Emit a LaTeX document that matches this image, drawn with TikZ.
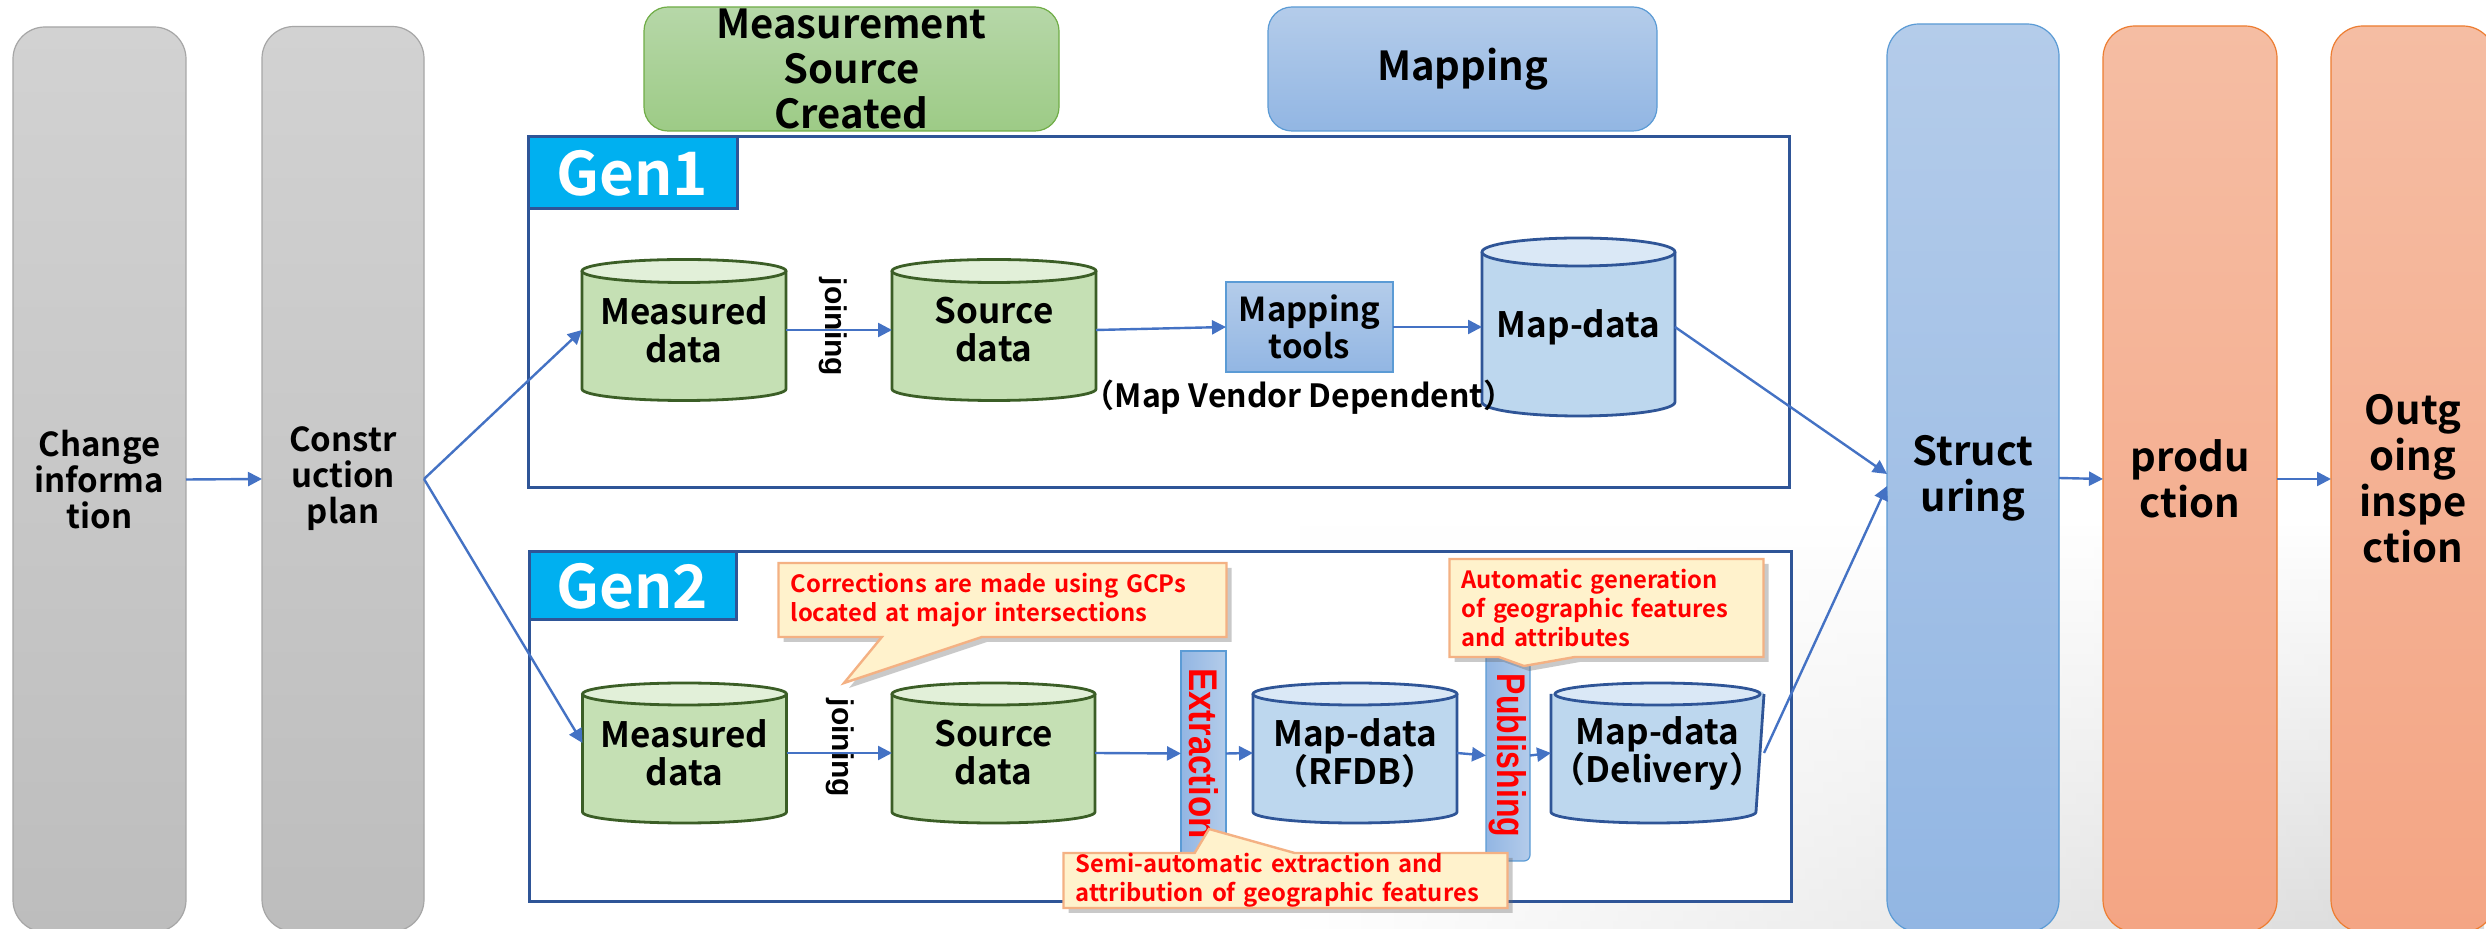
\documentclass[tikz,border=0pt]{standalone}
\usepackage{fontspec}
\usepackage{graphicx}
\setmainfont{Noto Sans CJK JP}[BoldFont={Noto Sans CJK JP Bold}]
\newfontfamily\arialf{Liberation Sans}
\usetikzlibrary{shapes.callouts,shadows,arrows.meta,fadings,calc}
\pgfdeclarelayer{back}\pgfdeclarelayer{cyl}\pgfsetlayers{back,cyl,main}
\definecolor{arrowblue}{HTML}{4472C4}
\definecolor{framecol}{HTML}{2F5597}
\definecolor{genfill}{HTML}{00B0F0}
\definecolor{cgbody}{HTML}{C5E0B4}
\definecolor{cgtop}{HTML}{E2F0D9}
\definecolor{cgline}{HTML}{3B5E26}
\definecolor{cbbody}{HTML}{BDD7EE}
\definecolor{cbtop}{HTML}{DAE8F6}
\definecolor{cbline}{HTML}{2F5597}
\definecolor{callfill}{HTML}{FFF2CC}
\definecolor{callline}{HTML}{F4B183}
\definecolor{grayT}{HTML}{D2D2D2}
\definecolor{grayB}{HTML}{BDBDBD}
\definecolor{grayD}{HTML}{A6A6A6}
\definecolor{blueT}{HTML}{B4CCEA}
\definecolor{blueB}{HTML}{92B6E3}
\definecolor{blueD}{HTML}{5B9BD5}
\definecolor{salT}{HTML}{F5BDA3}
\definecolor{salB}{HTML}{F4A584}
\definecolor{salD}{HTML}{ED7D31}
\definecolor{grnT}{HTML}{B6D7A8}
\definecolor{grnB}{HTML}{9DCB86}
\definecolor{grnD}{HTML}{70AD47}
\tikzfading[name=fadeleft, left color=transparent!100, right color=transparent!0]
\newcommand\fs[2]{\fontsize{#1pt}{#2pt}\selectfont\bfseries}
% cylinder drawn behind a named node: name, body, top, line, rx, ry
\newcommand\cylshape[6]{%
 \begin{pgfonlayer}{cyl}
 \path[fill=#2] ([yshift=-#6]#1.north west) -- ([yshift=#6]#1.south west)
   arc[start angle=180,end angle=360,x radius=#5,y radius=#6]
   -- ([yshift=-#6]#1.north east)
   arc[start angle=0,end angle=180,x radius=#5,y radius=#6] -- cycle;
 \draw[#4,line width=1.4pt] ([yshift=-#6]#1.north west) -- ([yshift=#6]#1.south west)
   arc[start angle=180,end angle=360,x radius=#5,y radius=#6]
   -- ([yshift=-#6]#1.north east);
 \draw[fill=#3,draw=#4,line width=1.4pt] ([yshift=-#6]#1.north) ellipse [x radius=#5,y radius=#6];
 \end{pgfonlayer}}
\begin{document}
\begin{tikzpicture}[x=0.5pt,y=-0.5pt,
  arr/.style={draw=arrowblue,line width=1.2pt,-{Triangle[length=7pt,width=7pt]}},
  tall/.style={rounded corners=16pt,align=center,inner sep=0pt,outer sep=0pt,minimum height=452.5pt},
  graybox/.style={tall,top color=grayT,bottom color=grayB,draw=grayD,line width=0.6pt,font=\fs{16.5}{18}},
  bluebox/.style={tall,top color=blueT,bottom color=blueB,draw=blueD,line width=0.6pt,font=\fs{20}{23}},
  salbox/.style={tall,top color=salT,bottom color=salB,draw=salD,line width=0.6pt,font=\fs{20}{23}},
  headbox/.style={rounded corners=12pt,align=center,inner sep=0pt,minimum height=62pt,font=\fs{20}{22.5},line width=0.6pt},
  framebox/.style={draw=framecol,fill=white,line width=1.5pt,inner sep=0pt},
  genbox/.style={fill=genfill,draw=framecol,line width=1.5pt,text=white,font=\fs{30}{30},inner sep=0pt},
  cylnode/.style={inner sep=0pt,outer sep=0pt,align=center,font=\fs{17.5}{19}},
  sidebar/.style={left color=blueB,right color=blueT,draw=blueD,line width=0.6pt,inner sep=0pt,outer sep=0pt},
  vlabel/.style={rotate=-90,font=\arialf\bfseries\fontsize{20pt}{20pt}\selectfont,text=red},
  joinlab/.style={rotate=-90,font=\arialf\bfseries\fontsize{15pt}{15pt}\selectfont},
  callbox/.style={rectangle callout,fill=callfill,draw=callline,line width=1.2pt,text=red,align=left,
     font=\fs{11.9}{14.5},inner xsep=6pt,inner ysep=0pt,outer sep=0pt,
     drop shadow={shadow xshift=2.5pt,shadow yshift=-2.5pt,opacity=.35,fill=black!60}}
]
\useasboundingbox (0,0) rectangle (2486,929);
\begin{pgfonlayer}{back}
\fill[white] (0,0) rectangle (2486,929);
\shade[top color=white,bottom color=black!15,path fading=fadeleft] (1300,520) rectangle (2486,929);
% frames (white inside)
\node[framebox,minimum width=630.5pt,minimum height=175.5pt] (frame1) at (1158.5,312.5) {};
\node[framebox,minimum width=631pt,minimum height=175pt] (frame2) at (1160,727) {};
\end{pgfonlayer}

% tall process columns
\node[graybox,minimum width=86.5pt] (change) at (99.5,479.5) {Change\\informa\\tion};
\node[graybox,minimum width=81pt] (constr) at (343,479) {Constr\\uction\\plan};
\node[bluebox,minimum width=86pt,minimum height=454pt] (struct) at (1973,478) {Struct\\uring};
\node[salbox,minimum width=87pt,minimum height=453pt] (prod) at (2190,479) {produ\\ction};
\node[salbox,minimum width=82pt,minimum height=453pt] (outg) at (2413,479) {Outg\\oing\\inspe\\ction};

% header boxes
\node[headbox,top color=grnT,bottom color=grnB,draw=grnD,minimum width=207.5pt] (meas) at (851.5,69) {Measurement\\Source\\Created};
\node[headbox,top color=blueT,bottom color=blueB,draw=blueD,minimum width=194.5pt] (mapping) at (1462.5,69) {Mapping};

% generation labels
\node[genbox,minimum width=104.5pt,minimum height=36pt] (gen1) at (632.5,173) {Gen1};
\node[genbox,minimum width=103.5pt,minimum height=34pt] (gen2) at (632.5,586) {Gen2};

% Gen1 row
\node[cylnode,minimum width=102pt,minimum height=70.5pt] (m1) at (684,330) {Measured\\data};
\cylshape{m1}{cgbody}{cgtop}{cgline}{51pt}{5.75pt}
\node[cylnode,minimum width=102pt,minimum height=70.5pt] (s1) at (994,330) {Source\\data};
\cylshape{s1}{cgbody}{cgtop}{cgline}{51pt}{5.75pt}
\node[joinlab] (j1) at (833,327) {joining};
\node[top color=blueT,bottom color=blueB,draw=blueD,line width=0.6pt,inner sep=0pt,outer sep=0pt,
      minimum width=83.5pt,minimum height=45pt,align=center,font=\fs{16.5}{16.5}] (tools) at (1309.5,327) {Mapping\\tools};
\node[font=\fs{16}{18}] (vendor) at (1299,397) {（Map Vendor Dependent）};
\node[cylnode,minimum width=96.5pt,minimum height=89pt] (md1) at (1578.5,327) {Map-data};
\cylshape{md1}{cbbody}{cbtop}{cbline}{48.25pt}{7pt}

% Gen2 row
\node[cylnode,minimum width=102pt,minimum height=70pt] (m2) at (684.5,753) {Measured\\data};
\cylshape{m2}{cgbody}{cgtop}{cgline}{51pt}{5.5pt}
\node[cylnode,minimum width=101.5pt,minimum height=70pt] (s2) at (993.5,753) {Source\\data};
\cylshape{s2}{cgbody}{cgtop}{cgline}{50.75pt}{5.5pt}
\node[joinlab] (j2) at (840,748) {joining};
\node[cylnode,minimum width=102pt,minimum height=70pt] (rfdb) at (1355,753) {Map-data\\（RFDB）};
\cylshape{rfdb}{cbbody}{cbtop}{cbline}{51pt}{5.5pt}
\node[cylnode,minimum width=102.5pt,minimum height=70pt] (dlv) at (1657.5,753) {Map-data\\（Delivery）};
\cylshape{dlv}{cbbody}{cbtop}{cbline}{51.25pt}{5.5pt}
\node[sidebar,minimum width=22.5pt,minimum height=102.5pt] (ext) at (1203.5,753.5) {};
\node[vlabel] (extl) at (ext.center) {\scalebox{0.87}[1]{Extraction}};
\node[sidebar,rounded corners=3pt,minimum width=22pt,minimum height=105.5pt] (pub) at (1508,755.5) {};
\node[vlabel] (publ) at (pub.center) {\scalebox{0.8}[1]{Publishing}};

% connectors
\draw[arr] (change.east) -- (constr.west);
\draw[arr] (constr.east) -- (m1.west);
\draw[arr] (constr.east) -- ([yshift=5pt]m2.west);
\draw[arr] (m1.east) -- (s1.west);
\draw[arr] (s1.east) -- (tools.west);
\draw[arr] (tools.east) -- (md1.west);
\draw[arr] (md1.east) -- ([yshift=2pt]struct.west);
\draw[arr] (dlv.east) -- ([yshift=-4pt]struct.west);
\draw[arr] (struct.east) -- (prod.west);
\draw[arr] (prod.east) -- (outg.west);
\draw[arr] (m2.east) -- (s2.west);
\draw[arr] (s2.east) -- (ext.west);
\draw[arr] (ext.east) -- (rfdb.west);
\draw[arr] (rfdb.east) -- (pub.west);
\draw[arr] (pub.east) -- (dlv.west);

% callouts
\node[callbox,text width=212pt,minimum height=37pt,callout pointer width=50pt,
      callout absolute pointer={(844,683)}] (c1) at (1002.5,600)
      {Corrections are made using GCPs\\located at major intersections};
\node[callbox,text width=145pt,minimum height=49pt,callout pointer width=38pt,
      callout absolute pointer={(1524,666)}] (c2) at (1606.5,608)
      {Automatic generation\\of geographic features\\and attributes};
\node[callbox,text width=210pt,minimum height=27.5pt,callout pointer width=50pt,
      callout absolute pointer={(1209,829)}] (c3) at (1285.5,880.5)
      {Semi-automatic extraction and\\attribution of geographic features};
\end{tikzpicture}
\end{document}
